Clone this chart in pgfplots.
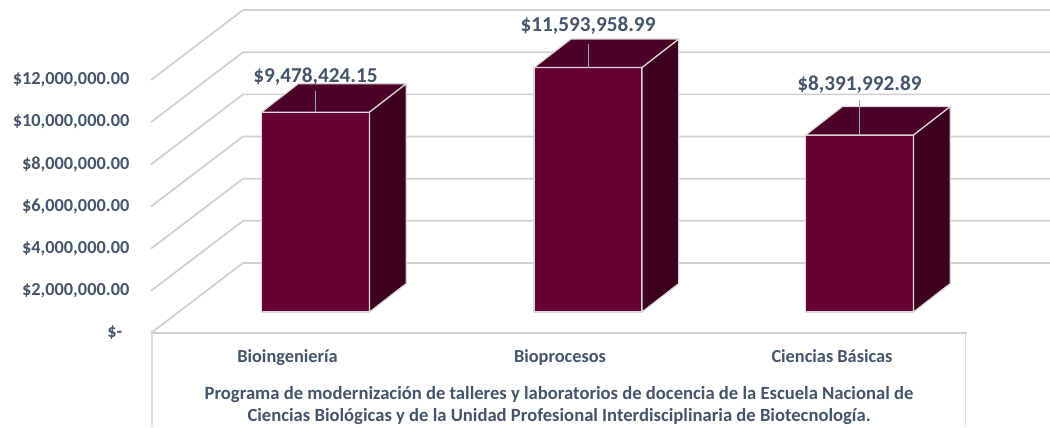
\documentclass[border=0pt]{standalone}
\usepackage{pgfplots}
\pgfplotsset{compat=1.18}
\usepackage{pgfplotstable}
\usepackage{fontspec}
\setmainfont{Carlito}
\definecolor{txt}{HTML}{44546A}
\definecolor{barfront}{HTML}{660033}
\definecolor{bartop}{HTML}{4C0027}
\definecolor{barside}{HTML}{3E001F}
\definecolor{edgec}{HTML}{DCD7DC}
\definecolor{gridc}{HTML}{CFCFCF}
\definecolor{boxc}{HTML}{D9DEE5}
\definecolor{leadc}{HTML}{9AA5B4}

% a 3-D column drawn at its front-top-centre point; \h = height in bp
\pgfdeclareplotmark{cuboid}{%
  \path[fill=barfront, draw=edgec, line width=1.2bp, line join=round]
    (-54bp,-\h bp) rectangle (54bp,0bp);
  \path[fill=bartop, draw=edgec, line width=1.2bp, line join=round]
    (-54bp,0bp) -- (54bp,0bp) -- (90.8bp,28.5bp) -- (-17.2bp,28.5bp) -- cycle;
  \path[fill=barside, draw=edgec, line width=1.2bp, line join=round]
    (54bp,0bp) -- (90.8bp,28.5bp) -- (90.8bp,28.5bp-\h bp) -- (54bp,-\h bp) -- cycle;
  \path[draw=leadc, line width=1bp] (0bp,0bp) -- (0bp,\lead bp);
}

% x: front-face centre (px), v: value in millions of dollars, lab: data label,
% off: label baseline above bar top (px), lead: leader length (px)
\pgfplotstableread{
x v lab off lead
315.5 9.47842415 9,478,424.15 30 21
588 11.59395899 11,593,958.99 36 24
859.5 8.39199289 8,391,992.89 45 35
}\bars

\begin{document}
\begin{tikzpicture}
\begin{axis}[
  x=1bp, y=21.08bp,
  xmin=0, xmax=1050, ymin=-4.459, ymax=15.797,
  enlargelimits=false, clip=false,
  axis line style={draw=none}, major tick length=0pt,
  xtick={287.5,560,832},
  xticklabels={Bioingeniería,Bioprocesos,Ciencias Básicas},
  xticklabel style={anchor=base, yshift=65bp, inner sep=0pt,
    font=\fontsize{18.4}{20}\selectfont\bfseries, text=txt},
  ytick={0,2,4,6,8,10,12},
  yticklabels={{\$-\rule{7bp}{0pt}},{\$2,000,000.00},{\$4,000,000.00},{\$6,000,000.00},{\$8,000,000.00},{\$10,000,000.00},{\$12,000,000.00}},
  yticklabel style={anchor=east, xshift=129.5bp, inner sep=0pt,
    font=\fontsize{18.4}{20}\selectfont\bfseries, text=txt},
]
% gridlines (front-left diagonal, then back wall)
\pgfplotsinvokeforeach{0,2,4,6,8,10,12}{
  \draw[gridc, line width=1.7bp, line join=round]
    (axis cs:151,#1) -- (axis cs:243,{#1+3.3207}) -- (axis cs:1050,{#1+3.3207});
}
% floor front edge and category box
\draw[gridc, line width=1.7bp] (axis cs:151,0) -- (axis cs:967,0);
\draw[boxc, line width=1.2bp] (axis cs:152,0) -- (axis cs:152,-4.459);
\draw[boxc, line width=1.2bp] (axis cs:965.5,0) -- (axis cs:965.5,-4.459);

\addplot[
  only marks, mark=cuboid,
  point meta=explicit symbolic,
  visualization depends on={\thisrow{v}*21.08 \as \h},
  visualization depends on={\thisrow{off} \as \off},
  visualization depends on={\thisrow{lead} \as \lead},
  nodes near coords={\$\pgfplotspointmeta},
  every node near coord/.append style={anchor=base, yshift=\off bp, inner sep=0pt,
    font=\fontsize{21.3}{23}\selectfont\bfseries, text=txt},
] table[x=x, y expr=\thisrow{v}+0.9962, meta=lab]{\bars};

% chart title under the categories
\node[anchor=base, inner sep=0pt, font=\fontsize{18.7}{20}\selectfont\bfseries, text=txt]
  at (axis cs:559,-3.178) {Programa de modernización de talleres y laboratorios de docencia de la Escuela Nacional de};
\node[anchor=base, inner sep=0pt, font=\fontsize{18.7}{20}\selectfont\bfseries, text=txt]
  at (axis cs:559,-4.175) {Ciencias Biológicas y de la Unidad Profesional Interdisciplinaria de Biotecnología.};
\end{axis}
\pgfresetboundingbox
\path (current axis.south west) rectangle (current axis.north east);
\end{tikzpicture}
\end{document}
